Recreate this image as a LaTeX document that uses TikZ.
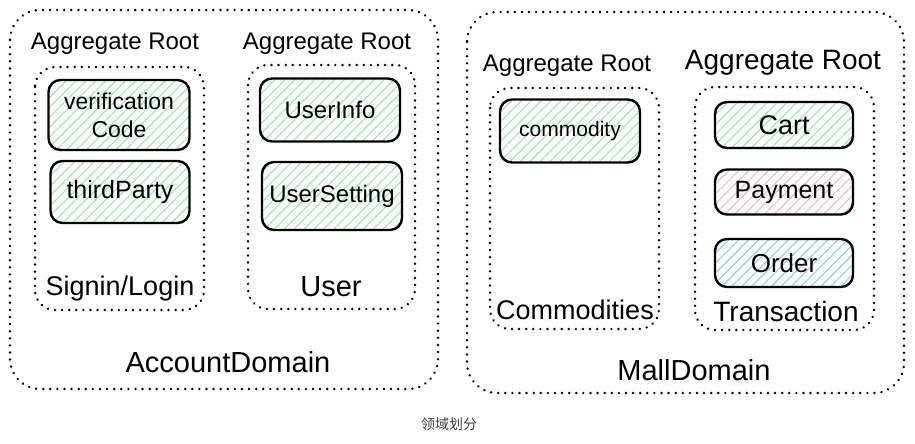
\documentclass[tikz,border=0pt]{standalone}
\usepackage{fontspec}
\setmainfont{Liberation Sans}
\newfontfamily\cjk{Noto Sans CJK SC}
\usetikzlibrary{patterns.meta}
\definecolor{hgreen}{HTML}{9DE8A8}
\definecolor{hred}{HTML}{FFB8B8}
\definecolor{hblue}{HTML}{8FCDFA}
\newcommand{\fsz}[1]{\fontsize{#1}{1.2\dimexpr #1pt\relax}\selectfont}

\begin{document}
\begin{tikzpicture}[x=1pt,y=-1pt,line join=round,line cap=round,
	dom/.style={line width=2.6pt,dash pattern=on 0.1pt off 7pt,rounded corners=30pt},
	agg/.style={dom,rounded corners=20pt},
	item/.style={draw,line width=2.4pt,rounded corners=12pt,inner sep=0pt,align=center,
		pattern={Lines[angle=45,distance=7pt,line width=1.1pt]},pattern color=#1},
	item/.default=hgreen,
	lbl/.style={anchor=base,inner sep=0pt}]
	\fill[white] (0,0) rectangle (915,444);
	% domains
	\draw[dom] (10,10) rectangle (438,389);
	\draw[dom] (467,12) rectangle (904,393);
	% aggregates
	\draw[agg] (35,67) rectangle (204,310);
	\draw[agg] (248,65) rectangle (415,309);
	\draw[agg] (490,88) rectangle (659,329);
	\draw[agg] (695,87) rectangle (874,330);
	\foreach \x/\y/\s [count=\i] in {115/50/24,327/50/24,567/71/24,783/70/28}
	\node[lbl,font=\fsz{\s}] (root\i) at (\x,\y) {Aggregate Root};
	% entities
	\node[item,minimum width=141pt,minimum height=70pt,font=\fsz{23}] (vcode) at (119,115) {verification\\Code};
	\node[item,minimum width=139pt,minimum height=62pt,font=\fsz{25}] (third) at (120,192) {thirdParty};
	\node[item,minimum width=140pt,minimum height=63pt,font=\fsz{24}] (uinfo) at (330,110) {UserInfo};
	\node[item,minimum width=140pt,minimum height=68pt,font=\fsz{24}] (uset) at (332,196) {UserSetting};
	\node[item,minimum width=140pt,minimum height=63pt,font=\fsz{21}] (comm) at (570,131) {commodity};
	\node[item,minimum width=138pt,minimum height=46pt,font=\fsz{27}] (cart) at (784,125) {Cart};
	\node[item=hred,minimum width=138pt,minimum height=45pt,font=\fsz{25}] (pay) at (784,192) {Payment};
	\node[item=hblue,minimum width=138pt,minimum height=48pt,font=\fsz{26}] (order) at (784,263) {Order};
	% names
	\node[lbl,font=\fsz{27}] (signin) at (120,295) {Signin/Login};
	\node[lbl,font=\fsz{29}] (user) at (331,296) {User};
	\node[lbl,font=\fsz{27}] (comms) at (575,319) {Commodities};
	\node[lbl,font=\fsz{28}] (trans) at (786,321) {Transaction};
	\node[lbl,font=\fsz{29}] (account) at (228,372) {AccountDomain};
	\node[lbl,font=\fsz{29}] (mall) at (694,380) {MallDomain};
	\node[lbl,font=\cjk\fsz{14},text=black!75] (caption) at (449,429) {领域划分};
\end{tikzpicture}
\end{document}
